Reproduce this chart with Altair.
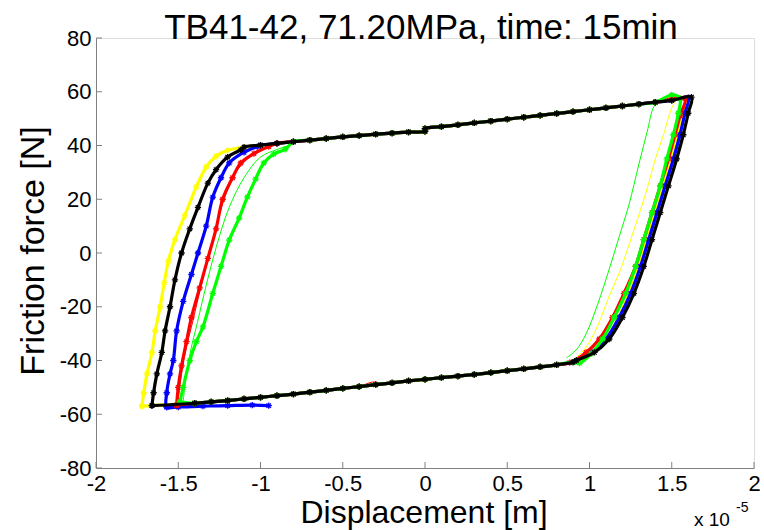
import altair as alt
import pandas as pd

TITLE = "TB41-42, 71.20MPa, time: 15min"
X_TITLE = "Displacement [m]"
Y_TITLE = "Friction force [N]"
X_TICKS = [-2, -1.5, -1, -0.5, 0, 0.5, 1, 1.5, 2]
Y_TICKS = [-80, -60, -40, -20, 0, 20, 40, 60, 80]

# shared sliding branches (x in 1e-5 m, force in N)
TOP_X = [-1.2, -1.1, -1.0, -0.9, -0.8, -0.7, -0.6, -0.5, -0.4, -0.3, -0.2, -0.1, 0.0,
         0.0, 0.1, 0.2, 0.3, 0.4, 0.5, 0.6, 0.7, 0.8, 0.9, 1.0, 1.1, 1.2, 1.3, 1.4, 1.5]
TOP_Y = [38.6, 39.4, 40.1, 40.8, 41.4, 42.0, 42.6, 43.2, 43.7, 44.2, 44.6, 45.0, 45.3,
         46.3, 47.0, 47.7, 48.4, 49.1, 49.8, 50.5, 51.2, 51.9, 52.6, 53.3, 54.0, 54.7, 55.4, 56.1, 56.8]
BOT_X = [0.9, 0.8, 0.7, 0.6, 0.5, 0.4, 0.3, 0.2, 0.1, 0.0, -0.1, -0.2, -0.3, -0.4,
         -0.5, -0.6, -0.7, -0.8, -0.9, -1.0, -1.1, -1.2, -1.3, -1.4]
BOT_Y = [-40.6, -41.6, -42.4, -43.1, -43.8, -44.5, -45.2, -45.8, -46.4, -47.0, -47.6, -48.3, -49.0, -49.7,
         -50.4, -51.1, -51.8, -52.5, -53.1, -53.7, -54.3, -54.9, -55.4, -55.9]

# yellow (markers)
YEL_LX = [-1.72, -1.71, -1.69, -1.66, -1.64, -1.61, -1.585, -1.56, -1.52, -1.46, -1.39, -1.33, -1.27, -1.20]
YEL_LY = [-57.0, -52.0, -45.0, -37.0, -29.0, -20.0, -11.0, -3.0, 5.0, 14.0, 24.6, 32.0, 36.0, 38.2]
YEL_RX = [1.59, 1.57, 1.54, 1.50, 1.45, 1.40, 1.35, 1.30, 1.24, 1.17, 1.10, 1.02, 0.93]
YEL_RY = [57.6, 52.0, 44.0, 35.0, 25.0, 15.0, 5.0, -5.0, -15.0, -25.0, -32.0, -37.0, -40.2]

# black (markers)
BLK_LX = [-1.66, -1.65, -1.63, -1.60, -1.58, -1.55, -1.52, -1.48, -1.43, -1.38, -1.32, -1.27, -1.20, -1.12]
BLK_LY = [-56.8, -52.0, -45.0, -37.0, -29.0, -20.0, -10.0, 0.0, 9.0, 17.0, 26.0, 31.0, 35.7, 38.4]
BLK_RX = [1.62, 1.60, 1.57, 1.53, 1.48, 1.43, 1.38, 1.33, 1.27, 1.20, 1.12, 1.03, 0.92]
BLK_RY = [58.0, 52.0, 44.0, 35.0, 25.0, 15.0, 5.0, -5.0, -15.0, -24.0, -32.0, -37.0, -40.0]

# blue (markers)
BLU_SX = [-0.95, -1.05, -1.2, -1.35, -1.5]
BLU_SY = [-56.8, -56.6, -56.8, -57.0, -57.3]
BLU_LX = [-1.57, -1.57, -1.55, -1.53, -1.51, -1.47, -1.42, -1.38, -1.33, -1.29, -1.24, -1.19, -1.10, -1.02]
BLU_LY = [-57.3, -52.0, -45.0, -40.0, -29.0, -18.0, -8.0, 0.0, 10.0, 20.8, 28.0, 33.5, 37.5, 39.6]
BLU_RX = [1.60, 1.58, 1.55, 1.51, 1.46, 1.41, 1.36, 1.31, 1.25, 1.18, 1.10, 1.01, 0.91]
BLU_RY = [57.8, 52.0, 44.0, 35.0, 25.0, 15.0, 5.0, -5.0, -15.0, -24.0, -32.0, -37.0, -40.3]

# red (markers)
RED_LX = [-1.51, -1.50, -1.48, -1.45, -1.42, -1.37, -1.32, -1.27, -1.23, -1.17, -1.12, -1.04, -0.95]
RED_LY = [-56.6, -50.0, -42.0, -33.0, -24.0, -13.0, -2.0, 9.0, 20.0, 28.0, 33.5, 37.0, 39.6]
RED_RX = [1.58, 1.55, 1.52, 1.48, 1.43, 1.38, 1.33, 1.28, 1.21, 1.14, 1.06, 0.98, 0.88]
RED_RY = [57.5, 51.0, 44.0, 35.0, 25.0, 15.0, 5.0, -5.0, -15.0, -24.0, -32.0, -37.0, -40.8]

# green (markers)
GRN_LX = [-1.49, -1.47, -1.43, -1.39, -1.35, -1.29, -1.24, -1.19, -1.13, -1.08, -1.03, -0.98, -0.92, -0.85]
GRN_LY = [-55.4, -50.0, -40.0, -33.0, -27.5, -15.0, -5.0, 4.8, 13.0, 20.8, 27.5, 33.5, 36.8, 38.6]
GRN_RX = [1.50, 1.55, 1.54, 1.51, 1.47, 1.43, 1.38, 1.33, 1.28, 1.22, 1.15, 1.08, 1.01, 0.94]
GRN_RY = [58.8, 57.5, 52.0, 44.0, 35.0, 25.0, 15.0, 5.0, -5.0, -15.0, -24.0, -32.0, -37.5, -41.0]

# thin lines
GTH_LX = [-1.47, -1.45, -1.42, -1.39, -1.33, -1.27, -1.19, -1.10, -1.00, -0.90, -0.80]
GTH_LY = [-55.0, -45.0, -35.0, -27.5, -12.0, 2.0, 17.0, 28.0, 35.7, 38.5, 40.5]
GTH_RX = [1.42, 1.39, 1.35, 1.30, 1.24, 1.18, 1.12, 1.05, 0.98, 0.92, 0.86]
GTH_RY = [56.3, 54.3, 45.0, 33.0, 18.0, 6.0, -6.0, -19.0, -30.0, -36.0, -39.0]
YTH_RX = [1.53, 1.50, 1.45, 1.40, 1.36, 1.31, 1.25, 1.19, 1.12, 1.05, 0.98, 0.91]
YTH_RY = [57.0, 54.0, 44.0, 35.0, 26.0, 16.0, 5.0, -6.0, -16.0, -27.0, -35.0, -39.5]
RTH_LX = [-1.50, -1.48, -1.45, -1.41, -1.36, -1.31, -1.26, -1.21, -1.15, -1.08, -1.00]
RTH_LY = [-55.0, -45.0, -35.0, -25.0, -12.0, 0.0, 12.0, 22.0, 30.0, 35.0, 38.5]
RTH_BX = [-0.42, -0.36, -0.32, -0.27]
RTH_BY = [-49.8, -48.8, -48.0, -48.4]


def loop(lx, ly, rx, ry, sx=None, sy=None):
    pts = []
    if sx:
        pts += list(zip(sx, sy))
    pts += list(zip(lx, ly))
    pts += [(x, y) for x, y in zip(TOP_X, TOP_Y) if lx[-1] < x < min(rx[0], rx[1]) - 0.05]
    pts += list(zip(rx, ry))
    pts += [(x, y) for x, y in zip(BOT_X, BOT_Y) if lx[0] < x < rx[-1]]
    pts.append((lx[0], ly[0]))
    return pd.DataFrame({"x": [p[0] for p in pts], "y": [p[1] for p in pts],
                         "i": list(range(len(pts)))})


def seg(xs, ys):
    return pd.DataFrame({"x": xs, "y": ys, "i": list(range(len(xs)))})


W, H = 658, 430
xs = alt.Scale(domain=[-2, 2], nice=False, zero=False)
ys = alt.Scale(domain=[-80, 80], nice=False, zero=False)
LBL = "toString(datum.value)"
FONT = "Liberation Sans"

x_axis = alt.Axis(values=X_TICKS, labelExpr=LBL, ticks=False, grid=False, domainColor="#808080",
                  labelFont=FONT, labelFontSize=22, labelColor="#000000", labelPadding=5,
                  title=None, labelFlush=False)
y_axis = alt.Axis(values=Y_TICKS, labelExpr=LBL, ticks=False, grid=False, domainColor="#808080",
                  labelFont=FONT, labelFontSize=22, labelColor="#000000", labelPadding=5,
                  title=None, labelFlush=False)

STAR = "M-1,0L1,0M0,-1L0,1M-0.7,-0.7L0.7,0.7M-0.7,0.7L0.7,-0.7"

layers = []
first = True


def enc(ch):
    global first
    if first:
        first = False
        return ch.encode(x=alt.X("x:Q", scale=xs, axis=x_axis), y=alt.Y("y:Q", scale=ys, axis=y_axis),
                         order="i:Q")
    return ch.encode(x=alt.X("x:Q", scale=xs), y=alt.Y("y:Q", scale=ys), order="i:Q")


thin = [(seg(GTH_LX, GTH_LY), "#00FF00"), (seg(GTH_RX, GTH_RY), "#00FF00"),
        (seg(YTH_RX, YTH_RY), "#FFFF00"), (seg(RTH_LX, RTH_LY), "#FF0000"),
        (seg(RTH_BX, RTH_BY), "#FF0000")]
for df, col in thin:
    layers.append(enc(alt.Chart(df).mark_line(color=col, strokeWidth=1, clip=True,
                                              interpolate="catmull-rom")))

marked = [
    (loop(YEL_LX, YEL_LY, YEL_RX, YEL_RY), "#FFFF00"),
    (loop(BLU_LX, BLU_LY, BLU_RX, BLU_RY, BLU_SX, BLU_SY), "#0000FF"),
    (loop(RED_LX, RED_LY, RED_RX, RED_RY), "#FF0000"),
    (loop(GRN_LX, GRN_LY, GRN_RX, GRN_RY), "#00FF00"),
    (loop(BLK_LX, BLK_LY, BLK_RX, BLK_RY), "#000000"),
]
for df, col in marked:
    base = alt.Chart(df)
    layers.append(enc(base.mark_line(color=col, strokeWidth=3.2, clip=True,
                                     interpolate="catmull-rom")))
    layers.append(enc(base.mark_point(shape=STAR, filled=False, color=col, size=40,
                                      strokeWidth=1.3, opacity=1, clip=True)))

xt = alt.Chart(pd.DataFrame({"x": X_TICKS})).mark_rule(color="#808080", strokeWidth=1).encode(
    x=alt.X("x:Q", scale=xs), y=alt.value(H), y2=alt.value(H - 6))
yt = alt.Chart(pd.DataFrame({"y": Y_TICKS})).mark_rule(color="#808080", strokeWidth=1).encode(
    y=alt.Y("y:Q", scale=ys), x=alt.value(0), x2=alt.value(6))
layers += [xt, yt]


def label(text, size, x, y, angle=0, align="center"):
    return alt.Chart(pd.DataFrame({"t": [text]})).mark_text(
        font=FONT, fontSize=size, align=align, baseline="alphabetic", color="#000000",
        angle=angle).encode(text="t:N", x=alt.value(x), y=alt.value(y))


layers += [
    label(TITLE, 35, 325, 1),
    label(X_TITLE, 32, 328, 485),
    label(Y_TITLE, 34, -52, 213, angle=270),
    label("x 10", 19, 598, 488, align="left"),
    label("-5", 14, 640, 474, align="left"),
]

chart = alt.layer(*layers).properties(
    width=W, height=H,
    autosize=alt.AutoSizeParams(type="none"),
    padding={"left": 96, "top": 38, "right": 10, "bottom": 62},
).configure_view(stroke=None).configure(background="white")

chart.save("out.html", embed_options={"renderer": "svg", "actions": False})
